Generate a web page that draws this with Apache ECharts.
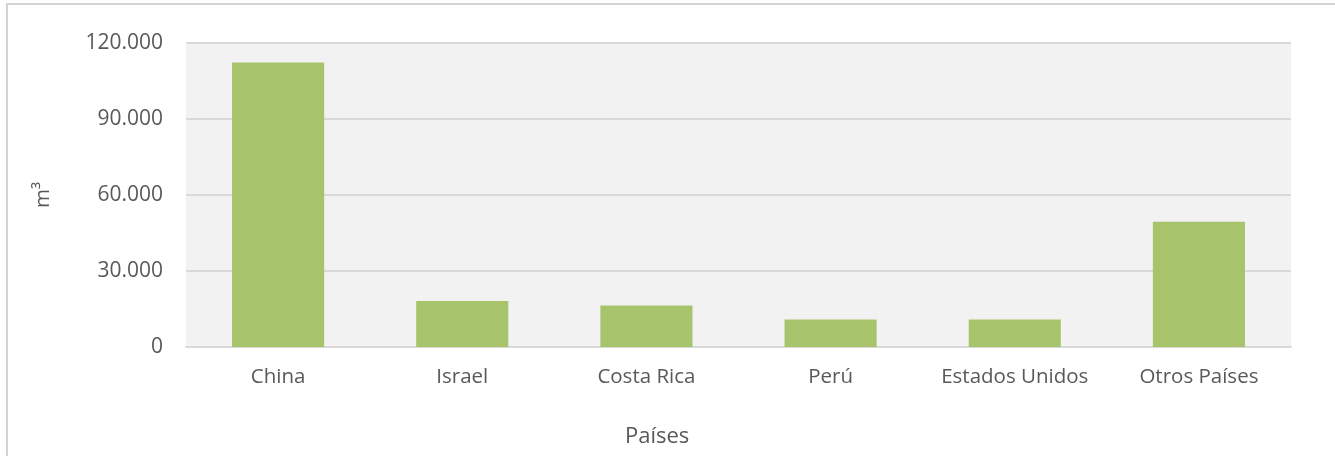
<!DOCTYPE html>
<html>
<head>
<meta charset="utf-8">
<script src="https://cdn.jsdelivr.net/npm/echarts@6/dist/echarts.min.js"></script>
<style>
  html, body { margin: 0; padding: 0; background: #fff; }
  .frame {
    position: absolute; left: 6px; top: 3px; width: 1340px; height: 470px;
    border-left: 2px solid #d4d4d4; border-top: 2px solid #d4d4d4;
  }
  #chart { position: absolute; left: 0; top: 0; width: 1335px; height: 456px; }
</style>
</head>
<body>
<div class="frame"></div>
<div id="chart"></div>
<script>
// países y volumen (m3)
const paises = ['China', 'Israel', 'Costa Rica', 'Perú', 'Estados Unidos', 'Otros Países']
const volumen = [112300, 18200, 16400, 10900, 10850, 49400]
const yTicks = [0, 30000, 60000, 90000, 120000]

const textColor = '#595959'
const fontFam = '"Open Sans", sans-serif'

const chart = echarts.init(document.getElementById('chart'))
chart.setOption({
  animation: false,
  grid: {
    left: 186,
    right: 44,
    top: 43,
    bottom: 109,
    show: true,
    backgroundColor: '#f2f2f2',
    borderWidth: 0
  },
  xAxis: {
    type: 'category',
    data: paises,
    axisLine: { lineStyle: { color: '#d9d9d9', width: 2 } },
    axisTick: { show: false },
    axisLabel: { interval: 0, color: textColor, fontSize: 20.5, fontFamily: fontFam, margin: 20 }
  },
  yAxis: {
    type: 'value',
    min: yTicks[0],
    max: yTicks[yTicks.length - 1],
    interval: 30000,
    name: 'm³',
    nameLocation: 'middle',
    nameGap: 132,
    nameRotate: 90,
    nameTextStyle: { color: textColor, fontSize: 20.5, fontFamily: fontFam },
    axisLine: { show: false },
    axisTick: { show: false },
    splitLine: { lineStyle: { color: '#d9d9d9', width: 2 } },
    axisLabel: {
      color: textColor, fontSize: 21, fontFamily: fontFam, margin: 23,
      formatter: v => v === 0 ? '0' : v.toLocaleString('de-DE')
    }
  },
  graphic: [{
    type: 'text',
    left: 625,
    top: 426,
    style: { text: 'Países', fill: textColor, fontSize: 22, fontFamily: fontFam }
  }],
  series: [{
    type: 'bar',
    data: volumen,
    barWidth: '50%',
    itemStyle: { color: '#a7c36b' }
  }]
})
</script>
</body>
</html>
